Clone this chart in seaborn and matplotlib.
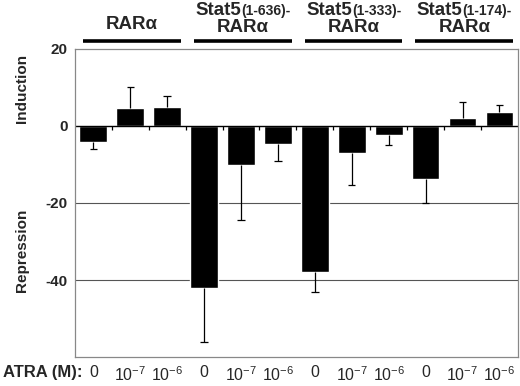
import numpy as np
import matplotlib
matplotlib.use('Agg')
import matplotlib.pyplot as plt
import pandas as pd
import seaborn as sns
from matplotlib.offsetbox import TextArea, HPacker, AnnotationBbox

sns.set_style("white")
plt.rcParams['font.family'] = ['Liberation Sans', 'DejaVu Sans']

# data
constructs = ["RARα", "Stat5(1-636)-RARα", "Stat5(1-333)-RARα", "Stat5(1-174)-RARα"]
atra = ["0", r"$\mathregular{10^{-7}}$", r"$\mathregular{10^{-6}}$"]
values = [-4.2, 4.6, 4.9,
          -42.0, -10.1, -4.7,
          -38.0, -6.9, -2.3,
          -13.7, 2.2, 3.6]
errors = [1.9, 5.4, 2.8,
          14.2, 14.3, 4.5,
          5.0, 8.3, 2.7,
          6.4, 4.1, 1.9]

# group header pieces: (main, subscript, second line)
headers = [("RARα", "", ""),
           ("Stat5", "(1-636)-", "RARα"),
           ("Stat5", "(1-333)-", "RARα"),
           ("Stat5", "(1-174)-", "RARα")]

df = pd.DataFrame({
    "idx": list(range(len(values))),
    "construct": [c for c in constructs for _ in atra],
    "atra": atra * len(constructs),
    "value": values,
    "err": errors,
})

fig = plt.figure(figsize=(5.2, 3.86), dpi=100)
ax = fig.add_axes([0.144, 0.0751, 0.852, 0.798])

sns.barplot(data=df, x="idx", y="value", color="black", width=0.75,
            saturation=1, errorbar=None, ax=ax)

# one-sided error bars, pointing away from zero
ends = [v - e if v < 0 else v + e for v, e in zip(values, errors)]
ax.vlines(df["idx"], df["value"], ends, color="black", lw=0.9, zorder=3)
ax.hlines(ends, df["idx"] - 0.1, df["idx"] + 0.1, color="black", lw=0.9, zorder=3)

ax.set_ylim(-60, 20)
ax.set_xlim(-0.5, len(values) - 0.5)
ax.set_yticks([20, 0, -20, -40])
ax.set_yticklabels(["20", "0", "-20", "-40"], fontsize=11, fontweight="bold")
ax.tick_params(axis="y", length=3, color="#888888", pad=2)

ax.set_xticks(range(len(values)))
ax.set_xticklabels(df["atra"], fontsize=11.5)
ax.tick_params(axis="x", length=0, pad=6)
ax.set_xlabel("")
ax.set_ylabel("")

for y in [-20, -40]:
    ax.axhline(y, color="#555555", lw=0.8, zorder=0)
ax.axhline(0, color="black", lw=1.0, zorder=2)
ax.vlines(np.arange(0.5, len(values) - 1, 1.0), -1.1, 0, color="black", lw=0.9)

for s in ax.spines.values():
    s.set_color("#888888")
    s.set_linewidth(0.9)

# group headers
trans = ax.get_xaxis_transform()
for g, (main, sub, second) in enumerate(headers):
    cx = 3 * g + 1.05
    ax.plot([3 * g - 0.28, 3 * g + 2.37], [1.026, 1.026], color="black", lw=2.6,
            transform=trans, clip_on=False, solid_capstyle="butt")
    if not sub:
        ax.text(cx, 1.081, main, transform=trans, ha="center", va="center",
                fontsize=13.5, fontweight="bold")
        continue
    box = HPacker(children=[TextArea(main, textprops=dict(fontsize=13.5, fontweight="bold")),
                            TextArea(sub, textprops=dict(fontsize=10, fontweight="bold"))],
                  align="baseline", pad=0, sep=0)
    ab = AnnotationBbox(box, (cx, 1.125), xycoords=trans, box_alignment=(0.5, 0.5),
                        frameon=False, pad=0, annotation_clip=False)
    ax.add_artist(ab)
    ax.text(cx, 1.071, second, transform=trans, ha="center", va="center",
            fontsize=13.5, fontweight="bold")

fig.text(22 / 520, 1 - 88 / 386, "Induction", rotation=90, ha="center", va="center",
         fontsize=11, fontweight="bold")
fig.text(22 / 520, 1 - 250 / 386, "Repression", rotation=90, ha="center", va="center",
         fontsize=11, fontweight="bold")
fig.text(3 / 520, 1 - 372 / 386, "ATRA (M):", ha="left", va="center",
         fontsize=12, fontweight="bold")

fig.savefig("out.png", dpi=100)
